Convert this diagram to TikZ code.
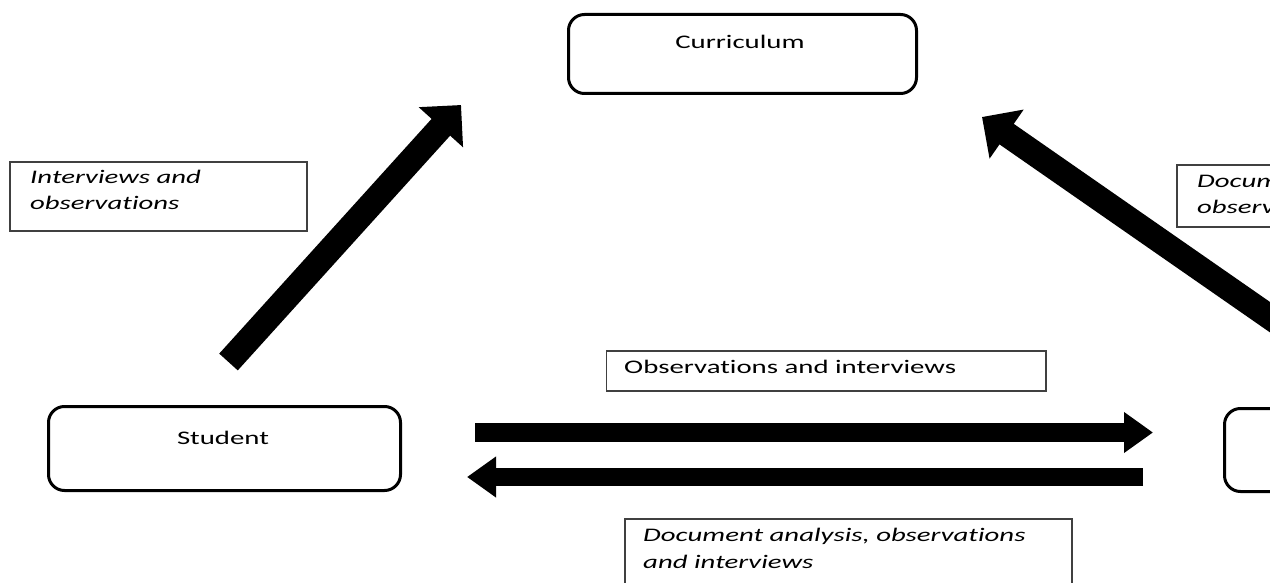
\documentclass[tikz,border=0pt]{standalone}
\usepackage{fontspec}
\newfontfamily\calib[FakeStretch=1.5,Ligatures=NoCommon]{Carlito}
\usetikzlibrary{arrows.meta}
\tikzset{
  rbox/.style={draw=black, line width=3pt, rounded corners=16pt},
  lbox/.style={draw=black!75, line width=1.3pt},
  txt/.style={inner sep=0pt, anchor=base west, font=\calib\fontsize{19.2}{26}\selectfont},
  ctxt/.style={inner sep=0pt, anchor=base, font=\calib\fontsize{19.2}{26}\selectfont},
  itxt/.style={txt, font=\calib\fontsize{19.2}{26}\selectfont\itshape},
  bigarrow/.style={line width=25pt, -{Triangle[width=58pt,length=30pt]}},
  hararrow/.style={line width=18.5pt, -{Triangle[width=39pt,length=29pt]}},
}
\begin{document}
\begin{tikzpicture}[x=1pt,y=-1pt]
\useasboundingbox (0,0) rectangle (1270,583);
\clip (0,0) rectangle (1270,583);
% main boxes
\draw[rbox] (568.5,14.5) rectangle (916.5,93.5);
\node[ctxt] (curr) at (740,49) {Curriculum};
\draw[rbox] (48.5,406.5) rectangle (400.5,490.5);
\node[ctxt] (stud) at (223,444) {Student};
\draw[rbox] (1224.5,408.5) rectangle (1500,491.5);
% label boxes
\draw[lbox] (10,162) rectangle (307,231);
\node[itxt] (l1a) at (30,184) {Interviews and};
\node[itxt] (l1b) at (30,210) {observations};
\draw[lbox] (1177,165) rectangle (1500,227);
\node[itxt] (l2a) at (1197,188) {Document analysis and};
\node[itxt] (l2b) at (1197,214) {observations};
\draw[lbox] (606.5,351) rectangle (1046,391);
\node[txt] (l3) at (624,373) {Observations and interviews};
\draw[lbox] (625,519) rectangle (1072,600);
\node[itxt] (l4a) at (643,541.5) {Document analysis, observations};
\node[itxt] (l4b) at (643,568) {and interviews};
% arrows
\coordinate (a1s) at (228.5,362);
\coordinate (a1e) at (461,105);
\coordinate (a2s) at (1310,345);
\coordinate (a2e) at (982,117);
\coordinate (a3s) at (475,432.5);
\coordinate (a3e) at (1153,432.5);
\coordinate (a4s) at (1143,477);
\coordinate (a4e) at (467,477);
\draw[bigarrow] (a1s) -- (a1e);
\draw[bigarrow] (a2s) -- (a2e);
\draw[hararrow] (a3s) -- (a3e);
\draw[hararrow] (a4s) -- (a4e);
\end{tikzpicture}
\end{document}
